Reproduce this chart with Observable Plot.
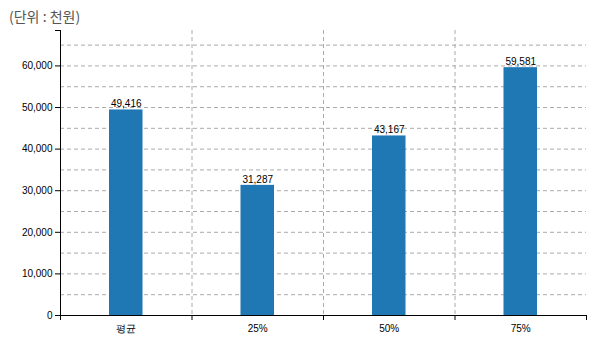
<!DOCTYPE html>
<html>
<head>
<meta charset="utf-8">
<script src="https://cdn.jsdelivr.net/npm/d3@7"></script>
<script src="https://cdn.jsdelivr.net/npm/@observablehq/plot@0.6"></script>
<style>
  body { margin: 0; background: #fff; }
  #wrap { position: relative; width: 597px; height: 341px; }
  #wrap svg { position: absolute; left: 0; top: 0; }
  #title { position: absolute; left: 9px; top: 7px; z-index: 2; font: 14px "Noto Sans CJK KR", sans-serif; line-height: 18px; color: #555; }
</style>
</head>
<body>
<div id="wrap"><div id="title">(단위 : 천원)</div></div>
<script>
const categories = ["평균", "25%", "50%", "75%"];
const values = [49416, 31287, 43167, 59581];
const yTicks = [0, 10000, 20000, 30000, 40000, 50000, 60000];
const gridValues = [5000, 10000, 15000, 20000, 25000, 30000, 35000, 40000, 45000, 50000, 55000, 60000, 65000];

const data = categories.map((c, i) => ({category: c, value: values[i], i}));
const yMax = d3.max(values) * 1.15;
const fmt = d3.format(",");

const chart = Plot.plot({
  width: 597,
  height: 341,
  marginLeft: 60,
  marginRight: 11,
  marginTop: 30,
  marginBottom: 26,
  style: {fontFamily: "'Liberation Sans', Arial, sans-serif", fontSize: "10px", color: "#000", background: "#fff"},
  x: {type: "linear", domain: [0, categories.length], axis: null},
  y: {domain: [0, yMax], axis: null},
  marks: [
    Plot.ruleY(gridValues, {stroke: "#aaa", strokeDasharray: "4,3", strokeWidth: 1}),
    Plot.ruleX(d3.range(1, categories.length), {stroke: "#aaa", strokeDasharray: "4,3", strokeWidth: 1}),
    Plot.rectY(data, {x1: d => d.i, x2: d => d.i + 1, y: "value", fill: "#1f77b4", insetLeft: 49, insetRight: 49}),
    Plot.text(data, {x: d => d.i + 0.5, y: "value", text: d => fmt(d.value), dy: -6, fill: "#000", fontSize: 10}),
    Plot.axisY({ticks: yTicks, tickFormat: fmt, tickSize: 5, tickPadding: 3, stroke: "#000", strokeOpacity: 1, label: null}),
    Plot.axisY({ticks: [yMax], tickFormat: () => "", tickSize: 5, stroke: "#000", strokeOpacity: 1, label: null}),
    Plot.axisX({ticks: d3.range(0, categories.length + 1), tickFormat: () => "", tickSize: 5, stroke: "#000", strokeOpacity: 1, label: null}),
    Plot.axisX({ticks: d3.range(0, categories.length).map(i => i + 0.5), tickFormat: v => categories[Math.floor(v)], tickSize: 0, tickPadding: 9, label: null}),
    Plot.ruleY([0], {stroke: "#000", strokeWidth: 1}),
    Plot.ruleX([0], {stroke: "#000", strokeWidth: 1, y1: 0, y2: yMax})
  ]
});
document.getElementById("wrap").appendChild(chart);
</script>
</body>
</html>
